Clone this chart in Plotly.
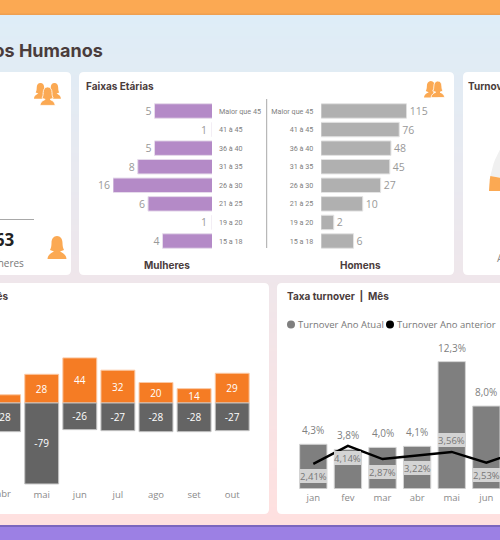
import math
import numpy as np
import plotly.graph_objects as go

# ---- data
age_groups = ["Maior que 45", "41 à 45", "36 à 40", "31 à 35", "26 à 30", "21 à 25", "19 a 20", "15 a 18"]
women = [5, 1, 5, 8, 16, 6, 1, 4]
men = [115, 76, 48, 45, 27, 10, 2, 6]
flow_months = ["abr", "mai", "jun", "jul", "ago", "set", "out"]
admissions = [8, 28, 44, 32, 20, 14, 29]
admission_labels = ["", "28", "44", "32", "20", "14", "29"]
dismissals = [-28, -79, -26, -27, -28, -28, -27]
rate_months = ["jan", "fev", "mar", "abr", "mai", "jun", "jul"]
rate_current = [4.3, 3.8, 4.0, 4.1, 12.3, 8.0, None]
rate_previous = [2.41, 4.14, 2.87, 3.22, 3.56, 2.53, 3.65]
gauge_value = 5.7
gauge_max = 100

W, H = 500, 540
INK = "#4A3C3C"
GREY = "#8A8A8A"
ORANGE_ICON = "#FBA953"
SANS = "Open Sans, sans-serif"
HEAD = "Inter, sans-serif"


def dx(l, r):
    return [l / W, r / W]


def dy(t, b):
    return [1 - b / H, 1 - t / H]


def lerp(c1, c2, t):
    return "rgb(%d,%d,%d)" % tuple(round(a + (b - a) * t) for a, b in zip(c1, c2))


def card(l, t, r, b, rad=5):
    p = (f"M{l+rad},{t} L{r-rad},{t} Q{r},{t} {r},{t+rad} L{r},{b-rad} Q{r},{b} {r-rad},{b} "
         f"L{l+rad},{b} Q{l},{b} {l},{b-rad} L{l},{t+rad} Q{l},{t} {l+rad},{t} Z")
    return dict(type="path", path=p, xref="x", yref="y", fillcolor="white", line_width=0, layer="below")


def person(x, y, s, outline=0.0):
    pts = [("M", 9.5, 0), ("C", 13, 0, 15, 3, 15, 7), ("C", 15, 10, 15.5, 12, 16.5, 14), ("L", 12.5, 15.5),
           ("C", 15, 17, 18.5, 18, 19, 23), ("L", 0, 23), ("C", 0.5, 18, 4, 17, 6.5, 15.5), ("L", 2.5, 14),
           ("C", 3.5, 12, 4, 10, 4, 7), ("C", 4, 3, 6, 0, 9.5, 0)]
    out = []
    for seg in pts:
        nums = seg[1:]
        coords = [f"{x + nums[i] * s:.2f},{y + nums[i + 1] * s:.2f}" for i in range(0, len(nums), 2)]
        out.append(seg[0] + " ".join(coords))
    return dict(type="path", path=" ".join(out) + " Z", xref="x", yref="y", fillcolor=ORANGE_ICON,
                line=dict(color="white", width=outline), layer="below")


shapes = []
# page gradient
top_c, mid_c = (222, 237, 247), (255, 224, 223)
for y0 in range(15, 525, 3):
    shapes.append(dict(type="rect", x0=0, x1=W, y0=y0, y1=y0 + 3.5, xref="x", yref="y", line_width=0,
                       fillcolor=lerp(top_c, mid_c, (y0 - 15) / 510), layer="below"))
shapes += [
    dict(type="rect", x0=0, x1=W, y0=0, y1=15, xref="x", yref="y", line_width=0, fillcolor=ORANGE_ICON, layer="below"),
    dict(type="rect", x0=0, x1=W, y0=13.5, y1=15, xref="x", yref="y", line_width=0, fillcolor="#EFA050", layer="below"),
    dict(type="rect", x0=0, x1=W, y0=525, y1=540, xref="x", yref="y", line_width=0, fillcolor="#9C80E4", layer="below"),
    dict(type="rect", x0=0, x1=W, y0=525, y1=527, xref="x", yref="y", line_width=0, fillcolor="#7C66BE", layer="below"),
    card(-20, 72, 71, 275), card(79, 72, 454, 275), card(463, 72, 540, 275),
    card(-20, 283, 269, 514), card(277, 283, 540, 514),
    dict(type="line", x0=0, x1=34, y0=219.5, y1=219.5, xref="x", yref="y", line=dict(color="#A8A8A8", width=1), layer="below"),
    dict(type="line", x0=266.7, x1=266.7, y0=99, y1=248, xref="x", yref="y", line=dict(color="#A8A8A8", width=1), layer="below"),
    # legend dots
    dict(type="circle", x0=287, x1=295, y0=320.5, y1=328.5, xref="x", yref="y", fillcolor="#7F7F7F", line_width=0),
    dict(type="circle", x0=386, x1=394, y0=320.5, y1=328.5, xref="x", yref="y", fillcolor="black", line_width=0),
    # icons
    person(34, 83, 0.68), person(48, 83, 0.68), person(40, 87, 0.8, 0.8),
    person(47.5, 236, 1.0),
    person(424, 81, 0.72), person(431, 81, 0.72, 0.8),
]


def note(text, x, y, size=10, color=GREY, anchor="left", bold=False, family=SANS):
    return dict(text=f"<b>{text}</b>" if bold else text, x=x, y=y, xref="x", yref="y", showarrow=False,
                xanchor=anchor, yanchor="middle", font=dict(size=size, color=color, family=family))


annotations = [
    note("Recursos Humanos", 104.5, 50.5, 18, INK, "right", True, HEAD),
    note("Faixas Etárias", 83.5, 86, 10, INK, "left", True, HEAD),
    note("Mulheres", 167, 265, 10, INK, "center", True, HEAD),
    note("Homens", 360.7, 265, 10, INK, "center", True, HEAD),
    note("Turnover", 466, 86, 10, INK, "left", True, HEAD),
    note("Ano Atual", 495, 258, 10.5, GREY, "left"),
    note("Mulheres", 25.5, 263, 10, "#777777", "right"),
    note("263", 16, 239.5, 17, "#222222", "right", True),
    note("Admissões x Desligamentos | Mês", 9.5, 296, 10, INK, "right", True, HEAD),
    note("Taxa turnover  |  Mês", 284.5, 296, 10, INK, "left", True, HEAD),
    note("Turnover Ano Atual", 295.5, 324.5, 9.5, "#777777"),
    note("Turnover Ano anterior", 395, 324.5, 9.5, "#777777"),
    # first month's tick label leaves the frame, where the axis would drop it
    dict(text=flow_months[0], x=0, y=-81, xref="x4", yref="y4", showarrow=False, yshift=-7.7, xanchor="center",
         yanchor="middle", font=dict(size=9.5, color="#8A8A8A", family=SANS)),
]

# bars of value 1 have no length on the log axis, so their labels are tied to the axis start
for cat, v in zip(age_groups, women):
    if v == 1:
        annotations.append(dict(text=str(v), x=math.log10(v), y=cat, xref="x2", yref="y2", showarrow=False,
                                xshift=-8.5, xanchor="center", yanchor="middle",
                                font=dict(size=10.5, color="#999999", family=SANS)))

# turnover annotations, tied to the chart's own axes
label_up = {4}
for i, v in enumerate(rate_previous[:6]):
    annotations.append(dict(text=f"{v:.2f}%".replace(".", ","), x=rate_months[i], y=v, xref="x5", yref="y5",
                            showarrow=False, yshift=12 if i in label_up else -12.5, xanchor="center",
                            yanchor="middle", bgcolor="rgba(217,217,217,0.95)", width=27, height=14,
                            borderpad=0, borderwidth=0, font=dict(size=9.5, color="#777777", family=SANS)))
for i, v in enumerate(rate_current[:6]):
    annotations.append(dict(text=f"{v:.1f}%".replace(".", ","), x=rate_months[i], y=v, xref="x5", yref="y5",
                            showarrow=False, yshift=6, xanchor="center", yanchor="bottom", borderpad=0,
                            font=dict(size=10, color="#808080", family=SANS)))

fig = go.Figure()

# gauge (left end of a half ring, the rest leaves the frame)
cx, cy, R_out, R_in = 573, 191, 84, 50
split = math.pi * gauge_value / gauge_max


def ring(a0, a1):
    a = np.linspace(a0, a1, 60)
    xs = np.r_[cx - R_out * np.cos(a), cx - R_in * np.cos(a[::-1])]
    ys = np.r_[cy - R_out * np.sin(a), cy - R_in * np.sin(a[::-1])]
    return xs, ys


gx, gy = ring(split, math.pi)
fig.add_trace(go.Scatter(x=gx, y=gy, mode="lines", fill="toself", fillcolor="#F0F0F0", line_width=0,
                         hoverinfo="skip", showlegend=False, xaxis="x", yaxis="y"))
gx, gy = ring(0, split)
fig.add_trace(go.Scatter(x=gx, y=gy, mode="lines", fill="toself", fillcolor="#FBA953", line_width=0,
                         hoverinfo="skip", showlegend=False, xaxis="x", yaxis="y"))

# age pyramid
val_font = dict(size=10.5, color="#999999", family=SANS)
fig.add_trace(go.Bar(y=age_groups, x=women, orientation="h", width=0.78,
                     marker=dict(color="#B48AC7", line=dict(color="#E6DCEB", width=1)),
                     text=[str(v) if v > 1 else "" for v in women], textposition="outside", textfont=val_font,
                     cliponaxis=False, showlegend=False, xaxis="x2", yaxis="y2"))
fig.add_trace(go.Bar(y=age_groups, x=men, orientation="h", width=0.78,
                     marker=dict(color="#B0B0B0", line=dict(color="#E4E4E4", width=1)),
                     text=[str(v) for v in men], textposition="outside", textfont=val_font, cliponaxis=False,
                     showlegend=False, xaxis="x3", yaxis="y3"))

# admissions / dismissals
in_font = dict(size=10, color="white", family=SANS)
flow_pos = list(range(len(flow_months)))
fig.add_trace(go.Bar(x=flow_pos, y=admissions, width=0.89,
                     marker=dict(color="#F57C24", line=dict(color="#FBC9A4", width=1)),
                     text=admission_labels, textposition="inside", insidetextanchor="middle", textangle=0,
                     textfont=in_font, constraintext="none", showlegend=False, xaxis="x4", yaxis="y4"))
fig.add_trace(go.Bar(x=flow_pos, y=dismissals, width=0.89,
                     marker=dict(color="#646464", line=dict(color="#C4C4C4", width=1)),
                     text=[str(v) for v in dismissals], textposition="inside", insidetextanchor="middle", textangle=0,
                     textfont=in_font, constraintext="none", showlegend=False, xaxis="x4", yaxis="y4"))

# turnover
fig.add_trace(go.Bar(x=rate_months, y=rate_current, width=0.79,
                     marker=dict(color="#7F7F7F", line=dict(color="#D4D4D4", width=1)),
                     showlegend=False, xaxis="x5", yaxis="y5"))
fig.add_trace(go.Scatter(x=rate_months, y=rate_previous, mode="lines", line=dict(color="black", width=2.5),
                         showlegend=False, xaxis="x5", yaxis="y5"))

off = dict(visible=False, fixedrange=True)
cat_tick = dict(size=7.2, color="#808080", family="Roboto, sans-serif")
m_tick = dict(size=9.5, color="#8A8A8A", family=SANS)
fig.update_layout(
    width=W, height=H, margin=dict(l=0, r=0, t=0, b=0), paper_bgcolor="white", plot_bgcolor="rgba(0,0,0,0)",
    font=dict(family=SANS), shapes=shapes, annotations=annotations, barmode="relative", showlegend=False,
    xaxis=dict(domain=[0, 1], range=[0, W], **off),
    yaxis=dict(domain=[0, 1], range=[H, 0], **off),
    xaxis2=dict(domain=dx(113, 212), type="log", range=[math.log10(16), 0], anchor="y2", **off),
    yaxis2=dict(domain=dy(101.7, 250.3), anchor="x2", side="right", autorange="reversed", categoryorder="array",
                categoryarray=age_groups, showgrid=False, zeroline=False, showline=False, ticks="", tickfont=cat_tick,
                ticklabelstandoff=6),
    xaxis3=dict(domain=dx(321.3, 406.7), type="log", range=[0, math.log10(115)], anchor="y3", **off),
    yaxis3=dict(domain=dy(101.7, 250.3), anchor="x3", autorange="reversed", categoryorder="array",
                categoryarray=age_groups, showgrid=False, zeroline=False, showline=False, ticks="", tickfont=cat_tick,
                ticklabelstandoff=7),
    xaxis4=dict(domain=dx(0, 269), anchor="y4", range=[-3.6 / 38.1, (269 - 3.6) / 38.1], type="linear",
                tickmode="array", tickvals=flow_pos, ticktext=flow_months, showgrid=False,
                zeroline=False, showline=False, ticks="", tickfont=m_tick, ticklabelstandoff=1),
    yaxis4=dict(domain=dy(350, 486), anchor="x4", range=[-81, 51.7], **off),
    xaxis5=dict(domain=dx(296, 500), anchor="y5", type="category", categoryorder="array", categoryarray=rate_months,
                range=[-0.5, 5.395], showgrid=False, zeroline=False, showline=False, ticks="", tickfont=m_tick,
                ticklabelstandoff=2),
    yaxis5=dict(domain=dy(340, 488.7), anchor="x5", range=[0, 14.395], **off),
)

fig.write_html("out.html", config={"displayModeBar": False}, post_script="document.body.style.margin='0';")
